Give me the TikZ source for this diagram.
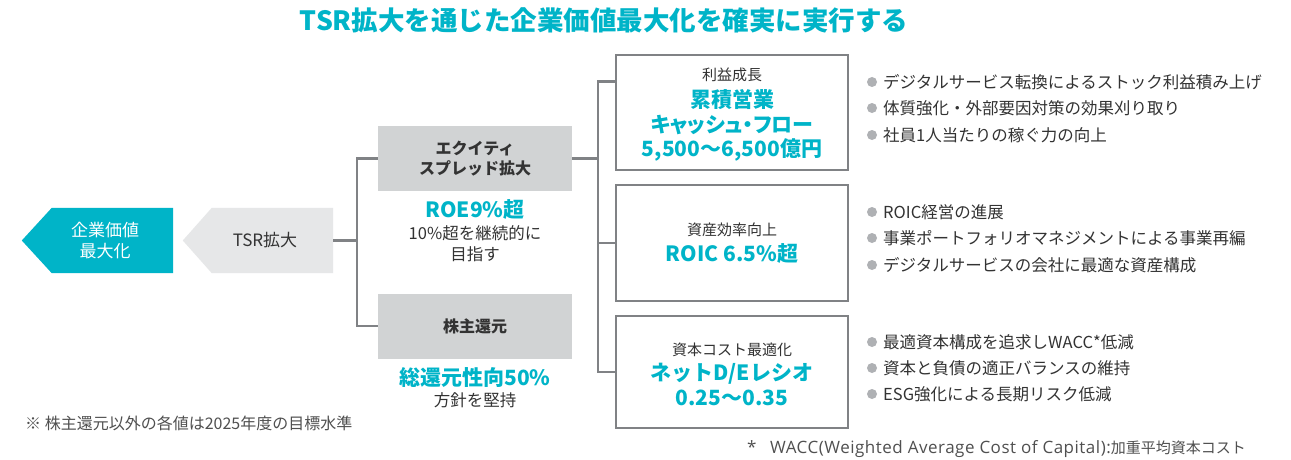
\documentclass[tikz,border=0pt]{standalone}
\usepackage{fontspec}
\setmainfont{Noto Sans CJK JP}
\newfontfamily\latfont[LetterSpace=3]{Open Sans}
\usetikzlibrary{calc,backgrounds}
\definecolor{teal1}{RGB}{0,180,200}
\definecolor{txt}{RGB}{51,51,51}
\definecolor{txt2}{RGB}{80,80,80}
\definecolor{boxg}{RGB}{209,211,212}
\definecolor{arrg}{RGB}{230,231,232}
\definecolor{lineg}{RGB}{128,130,133}
\definecolor{bulg}{RGB}{175,177,180}
\begin{document}
\begin{tikzpicture}[x=1pt,y=-1pt,
  conn/.style={draw=lineg,line width=2.6pt},
  graybox/.style={fill=boxg, minimum width=194pt, minimum height=65pt, inner sep=0pt, text=txt, font=\bfseries\fontsize{16}{20}\selectfont, align=center},
  goalbox/.style={draw=lineg, line width=2.8pt, fill=white, minimum width=232pt, inner sep=0pt},
  lab/.style={text=txt, font=\fontsize{15}{18}\selectfont, inner sep=0pt},
  mid/.style={text=txt, font=\fontsize{16.5}{20}\selectfont, inner sep=0pt},
  big/.style={text=teal1, font=\bfseries\fontsize{21}{24}\selectfont, inner sep=0pt},
  bul/.style={text=txt, font=\fontsize{16.5}{20}\selectfont, anchor=west, inner sep=0pt},
  dot/.style={circle, fill=bulg, minimum size=10pt, inner sep=0pt},
  foot/.style={text=txt2, font=\fontsize{16}{19}\selectfont, anchor=west, inner sep=0pt},
  arrbody/.style={minimum width=121pt, minimum height=65pt, inner sep=0pt},
  ]
\useasboundingbox (0,0) rectangle (1291,460);
\fill[white] (0,0) rectangle (1291,460);

% title
\node[text=teal1, font=\bfseries\fontsize{26.5}{30}\selectfont, inner sep=0pt] (title) at (604,20) {TSR拡大を通じた企業価値最大化を確実に実行する};

% left arrows
\node[arrbody] (val) at (112.5,240.5) {};
\node[arrbody] (tsr) at (272.5,240.5) {};
\fill[teal1] (val.north west) -- (val.north east) -- (val.south east) -- (val.south west) -- ($(val.west)+(-30,0)$) -- cycle;
\fill[arrg] (tsr.north west) -- (tsr.north east) -- (tsr.south east) -- (tsr.south west) -- ($(tsr.west)+(-29,0)$) -- cycle;
\node[text=white, font=\fontsize{17}{21}\selectfont, align=center, inner sep=0pt] (valtxt) at (105,240.5) {企業価値\\最大化};
\node[text=txt, font=\fontsize{17}{21}\selectfont, inner sep=0pt] (tsrtxt) at (265,240.5) {TSR拡大};

% middle gray boxes
\node[graybox] (eq) at (475,158.5) {エクイティ\\スプレッド拡大};
\node[graybox] (sh) at (475,326) {株主還元};
\node[big] (roe) at (475,210) {ROE9\%超};
\node[mid] (roe2) at (475,233) {10\%超を継続的に};
\node[mid] (roe3) at (475,254) {目指す};
\node[big] (tot) at (475,378) {総還元性向50\%};
\node[mid] (tot2) at (475,400) {方針を堅持};

% goal boxes
\node[goalbox, minimum height=115pt] (b1) at (732,112.5) {};
\node[goalbox, minimum height=116pt] (b2) at (732,243) {};
\node[goalbox, minimum height=112pt] (b3) at (732,372) {};

\node[lab] (b1a) at (732,75) {利益成長};
\node[big] (b1b) at (732,100) {累積営業};
\node[big] (b1c) at (732,125) {\addfontfeature{RawFeature=+palt}キャッシュ・フロー};
\node[big] (b1d) at (732,150) {5,500〜6,500億円};

\node[lab] (b2a) at (732,230) {資産効率向上};
\node[big] (b2b) at (732,254) {ROIC 6.5\%超};

\node[lab] (b3a) at (732,350) {資本コスト最適化};
\node[big] (b3b) at (732,374) {ネットD/Eレシオ};
\node[big] (b3c) at (732,398) {0.25〜0.35};

% connectors
\coordinate (j1) at (357,240.5);
\coordinate (j2) at (598,240);
\draw[conn] (tsr.east) -- (j1);
\draw[conn] (eq.west) -- (eq.west -| j1) -- (sh.west -| j1) -- (sh.west);
\coordinate (b1w) at ($(b1.north west)+(0,28)$);
\draw[conn] (b1w) -- (b1w -| j2) -- (b3.west -| j2) -- (b3.west);
\draw[conn] (b2.west) -- (b2.west -| j2);
\draw[conn] (eq.east) -- (eq.east -| j2);

% bullets
\foreach \yy/\tt [count=\i] in {
  82/デジタルサービス転換によるストック利益積み上げ,
  108/体質強化・外部要因対策の効果刈り取り,
  135/社員1人当たりの稼ぐ力の向上,
  212/ROIC経営の進展,
  238/事業ポートフォリオマネジメントによる事業再編,
  265/デジタルサービスの会社に最適な資産構成,
  342/最適資本構成を追求しWACC*低減,
  368/資本と負債の適正バランスの維持,
  394/ESG強化による長期リスク低減}{
  \node[dot] (d\i) at (872,\yy) {};
  \node[bul] (p\i) at (883,\yy) {\tt};
}

% footnotes
\node[foot] (fn1) at (25,423) {※ 株主還元以外の各値は2025年度の目標水準};
\node[foot] (fn2) at (747,449) {{\latfont\fontsize{17}{19}\selectfont *\hspace{0.8em}WACC(Weighted Average Cost of Capital):}{\fontsize{15}{19}\selectfont 加重平均資本コスト}};
\end{tikzpicture}
\end{document}
